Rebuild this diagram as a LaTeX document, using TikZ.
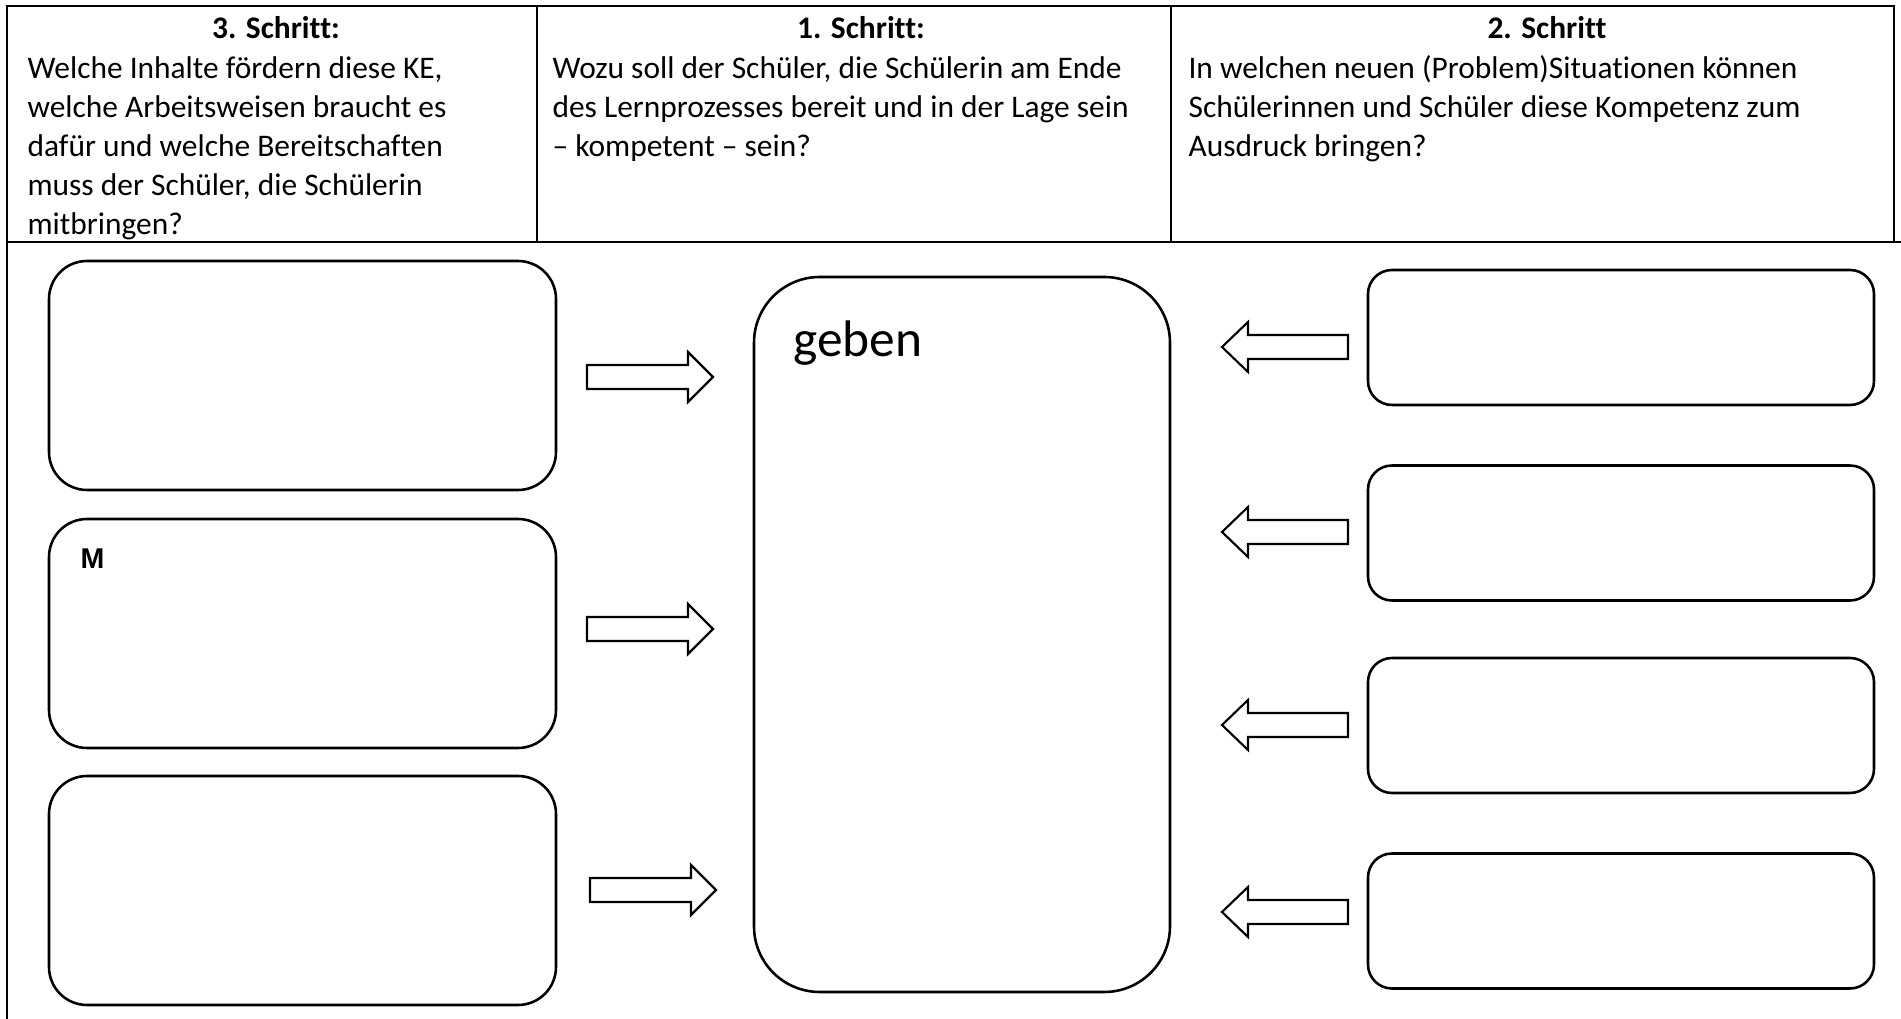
\documentclass[tikz,border=0pt]{standalone}
\usepackage{fontspec}
\setmainfont{Carlito}[Ligatures=NoCommon]
\newfontfamily\arialfont{Liberation Sans}
\usetikzlibrary{positioning}

\begin{document}
\begin{tikzpicture}[x=0.35pt,y=-0.35pt,
        tabelle/.style={line width=1pt},
        kasten/.style={draw,line width=0.9pt,inner sep=0pt},
        pfeil/.style={draw,line width=0.75pt,line join=miter},
        kopf/.style={font=\fontsize{11}{13.6}\selectfont\bfseries,anchor=base,inner sep=0pt},
        frage/.style={font=\fontsize{11}{13.6}\selectfont,align=left,anchor=north west,inner sep=0pt}]
    \useasboundingbox (0,0) rectangle (1901,1019);
    % Tabellenkopf
    \draw[tabelle] (7,1019) -- (7,6) -- (1894,6) -- (1894,242);
    \draw[tabelle] (7,242) -- (1901,242);
    \draw[tabelle] (537,6) -- (537,242);
    \draw[tabelle] (1171,6) -- (1171,242);
    \node[kopf] (kopf3) at (276,39) {3. Schritt:};
    \node[kopf] (kopf1) at (861,39) {1. Schritt:};
    \node[kopf] (kopf2) at (1547,39) {2. Schritt};
    \node[frage] (frage3) at (27,51) {\strut Welche Inhalte fördern diese KE,\\
        welche Arbeitsweisen braucht es\\
        dafür und welche Bereitschaften\\
        muss der Schüler, die Schülerin\\
        mitbringen?};
    \node[frage] (frage1) at (552,51) {\strut Wozu soll der Schüler, die Schülerin am Ende\\
        des Lernprozesses bereit und in der Lage sein\\
        – kompetent – sein?};
    \node[frage] (frage2) at (1188,51) {\strut In welchen neuen (Problem)Situationen können\\
        Schülerinnen und Schüler diese Kompetenz zum\\
        Ausdruck bringen?};
    % Kaesten
    \foreach \y [count=\i] in {375.5,633.5,890.5}
        \node[kasten,rounded corners=13.3pt,minimum width=177.45pt,minimum height=80.15pt] (links\i) at (302.5,\y) {};
    \node[kasten,rounded corners=23pt,minimum width=145.6pt,minimum height=250.25pt] (mitte) at (962,634.5) {};
    \foreach \y [count=\i] in {337.5,533,725.5,921}
        \node[kasten,rounded corners=8.4pt,minimum width=177.1pt,minimum height=47.25pt] (rechts\i) at (1621,\y) {};
    \node[font=\fontsize{18}{22}\selectfont,anchor=base west,inner sep=0pt] (geben) at (793,357) {geben};
    \node[font=\arialfont\bfseries\fontsize{10}{12}\selectfont,anchor=base west,inner sep=0pt] (m) at (80,569) {M};
    % Pfeile
    \foreach \x/\y in {587/377,587/629,590/890}
        \draw[pfeil] (\x,\y-12) -- ++(101,0) -- ++(0,-13) -- ++(25,25) -- ++(-25,25) -- ++(0,-13) -- ++(-101,0) -- cycle;
    \foreach \y in {347,532,725,912}
        \draw[pfeil] (1348,\y-12) -- ++(-100,0) -- ++(0,-13) -- ++(-26,25) -- ++(26,25) -- ++(0,-13) -- ++(100,0) -- cycle;
\end{tikzpicture}
\end{document}
